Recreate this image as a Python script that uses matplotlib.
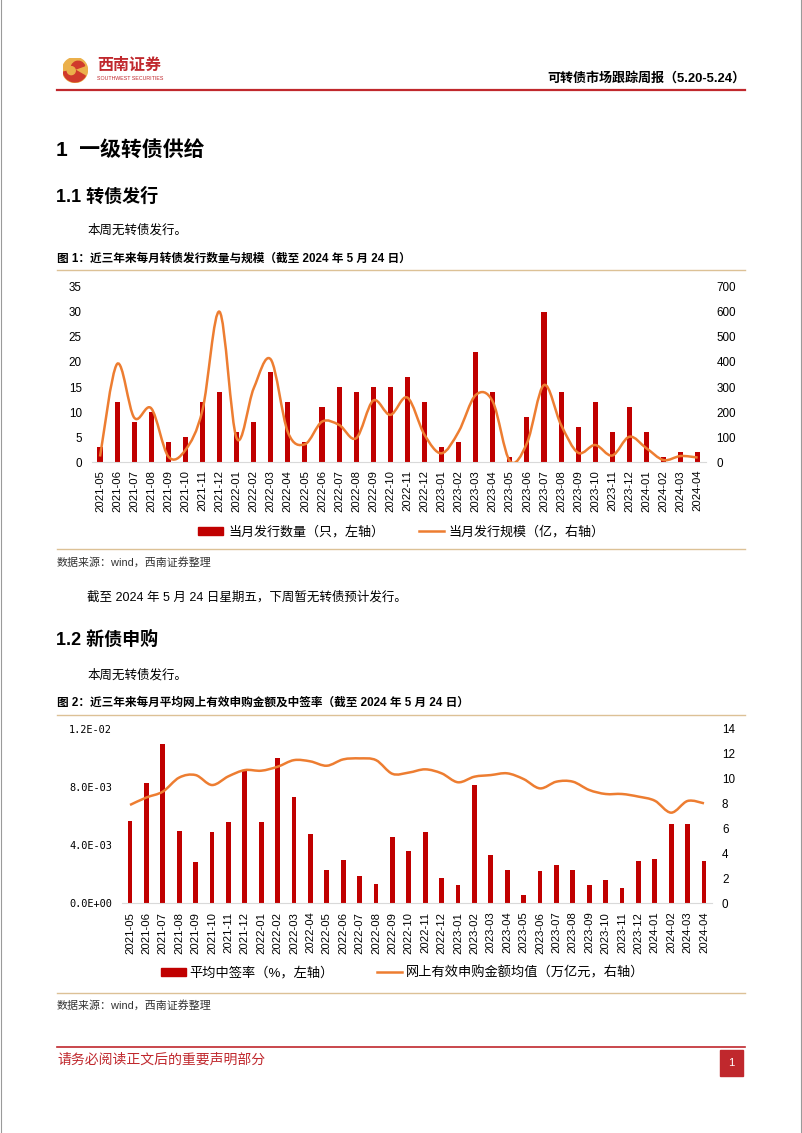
import numpy as np
import pandas as pd
import matplotlib
matplotlib.use('Agg')  # no display
import matplotlib.pyplot as plt
from matplotlib.path import Path
from matplotlib.patches import PathPatch, Rectangle, Circle, Wedge, Patch
from matplotlib.lines import Line2D
from matplotlib.ticker import FixedLocator, FuncFormatter

plt.rcParams['font.family'] = ['Liberation Sans', 'Noto Sans CJK SC', 'DejaVu Sans']

# ---- data ----
months = [p.strftime('%Y-%m') for p in pd.period_range('2021-05', '2024-04', freq='M')]

# fig 1: monthly issuance count (left) and size in 100m CNY (right)
issue_count = [3, 12, 8, 10, 4, 5, 12, 14,
               6, 8, 18, 12, 4, 11, 15, 14, 15, 15, 17, 12,
               3, 4, 22, 14, 1, 9, 30, 14, 7, 12, 6, 11,
               6, 1, 2, 2]
issue_size = [23, 392, 178, 215, 23, 49, 208, 600,
              96, 295, 410, 120, 72, 162, 149, 96, 246, 189, 258, 110,
              36, 122, 268, 242, 5, 76, 308, 149, 38, 69, 27, 102,
              56, 9, 25, 19]

# fig 2: avg winning rate (left) and avg online subscription amount, trillion CNY (right)
win_rate = [0.00569, 0.00826, 0.01097, 0.0050, 0.00285, 0.00493, 0.00562, 0.00918,
            0.00562, 0.00998, 0.0073, 0.00477, 0.00229, 0.00298, 0.0019, 0.00133,
            0.00459, 0.0036, 0.00493, 0.00174,
            0.00126, 0.00812, 0.00333, 0.00229, 0.00057, 0.00223, 0.00266, 0.00229,
            0.00128, 0.00161, 0.00108, 0.00291,
            0.00307, 0.00548, 0.00548, 0.00291]
sub_amount = [7.9, 8.5, 8.97, 10.1, 10.3, 9.5, 10.2, 10.7,
              10.65, 10.97, 11.5, 11.4, 11.05, 11.56, 11.64, 11.5, 10.4, 10.5, 10.76, 10.44,
              9.72, 10.17, 10.3, 10.44, 9.98, 9.23, 9.77, 9.77, 9.1, 8.78, 8.78, 8.57,
              8.24, 7.28, 8.22, 8.03]

RED = '#C00000'
ORANGE = '#ED7D31'
BRAND = '#C0282D'
TAN = '#DCC196'

W, H = 802, 1133


def fx(x):
    return x / W


def fy(y):
    return 1 - y / H


def smooth_path(xs, ys):
    # Excel-style smoothed line: catmull-rom segments as cubic beziers
    px = np.concatenate([[xs[0]], xs, [xs[-1]]]).astype(float)
    py = np.concatenate([[ys[0]], ys, [ys[-1]]]).astype(float)
    verts = [(px[1], py[1])]
    codes = [Path.MOVETO]
    for i in range(len(xs) - 1):
        c1 = (px[i + 1] + (px[i + 2] - px[i]) / 6, py[i + 1] + (py[i + 2] - py[i]) / 6)
        c2 = (px[i + 2] - (px[i + 3] - px[i + 1]) / 6, py[i + 2] - (py[i + 3] - py[i + 1]) / 6)
        verts += [c1, c2, (px[i + 2], py[i + 2])]
        codes += [Path.CURVE4] * 3
    return Path(verts, codes)


def hline(y, x0, x1, color, lw):
    fig.add_artist(Line2D([fx(x0), fx(x1)], [fy(y), fy(y)], color=color, lw=lw))


def txt(x, y, s, size, **kw):
    fig.text(fx(x), fy(y), s, fontsize=size, va='center', **kw)


fig = plt.figure(figsize=(W / 100, H / 100), dpi=100)

# page border
fig.add_artist(Line2D([fx(0.5), fx(0.5)], [0, 1], color='#9A9A9A', lw=0.8))
fig.add_artist(Line2D([fx(800.5), fx(800.5)], [0, 1], color='#9A9A9A', lw=0.8))

# ---- header ----
ax_logo = fig.add_axes([fx(62.5), fy(82.5), 25 / W, 25 / H])
ax_logo.set_xlim(-1, 1)
ax_logo.set_ylim(-1, 1)
ax_logo.axis('off')
ax_logo.add_patch(Circle((0, 0), 1, color='#EBB04B'))
ax_logo.add_patch(Wedge((0, 0), 0.95, 190, 330, color='#D03A2C'))
ax_logo.add_patch(Wedge((0.25, 0.15), 0.55, 20, 200, color='#D03A2C'))
ax_logo.add_patch(Circle((-0.3, -0.05), 0.32, color='#EBB04B'))
txt(97, 65, '西南证券', 11.5, color=BRAND, fontweight='bold')
txt(97, 78, 'SOUTHWEST SECURITIES', 3.8, color=BRAND)
fig.text(fx(745), fy(78), '可转债市场跟踪周报（5.20-5.24）', fontsize=9.4,
         fontweight='bold', ha='right', va='center')
hline(90, 57, 745, BRAND, 1.6)

# ---- body text ----
txt(56, 150, '1  一级转债供给', 15, fontweight='bold')
txt(56, 197, '1.1 转债发行', 13, fontweight='bold')
txt(87, 230, '本周无转债发行。', 9)
txt(57, 259, '图 1：近三年来每月转债发行数量与规模（截至 2024 年 5 月 24 日）', 8.4, fontweight='bold')
hline(270, 57, 745, TAN, 1.0)
hline(549, 57, 745, TAN, 1.0)
txt(57, 562, '数据来源：wind，西南证券整理', 7.9, color='#333333')
txt(87, 597, '截至 2024 年 5 月 24 日星期五，下周暂无转债预计发行。', 9)
txt(56, 640, '1.2 新债申购', 13, fontweight='bold')
txt(87, 675, '本周无转债发行。', 9)
txt(57, 703, '图 2：近三年来每月平均网上有效申购金额及中签率（截至 2024 年 5 月 24 日）', 8.4, fontweight='bold')
hline(715, 57, 745, TAN, 1.0)
hline(993, 57, 745, TAN, 1.0)
txt(57, 1005, '数据来源：wind，西南证券整理', 7.9, color='#333333')

# footer
hline(1047, 57, 745, BRAND, 1.2)
txt(57, 1060, '请务必阅读正文后的重要声明部分', 10, color=BRAND)
fig.add_artist(Rectangle((fx(720), fy(1076)), 23 / W, 26 / H, color=BRAND))
fig.text(fx(731.5), fy(1063), '1', fontsize=8, color='white', ha='center', va='center')

x = np.arange(len(months))


def style_axes(ax, ax2):
    for a in (ax, ax2):
        for s in a.spines.values():
            s.set_visible(False)
        a.tick_params(length=0)
    ax.spines['bottom'].set_visible(True)
    ax.spines['bottom'].set_color('#D9D9D9')
    ax.spines['bottom'].set_linewidth(0.8)
    ax.set_xlim(-0.5, len(months) - 0.5)
    ax.set_xticks(x)
    ax.set_xticklabels(months, rotation=90, fontsize=8.1)


# ---- chart 1 ----
ax = fig.add_axes([fx(91.5), fy(462.3), (706.2 - 91.5) / W, (462.3 - 286.7) / H])
ax2 = ax.twinx()
ax.bar(x, issue_count, width=0.3, color=RED)
ax.set_ylim(0, 35)
ax.set_yticks(range(0, 36, 5))
ax2.set_ylim(0, 700)
ax2.set_yticks(range(0, 701, 100))
ax2.add_patch(PathPatch(smooth_path(x, issue_size), facecolor='none',
                        edgecolor=ORANGE, lw=1.8))
style_axes(ax, ax2)
ax.tick_params(axis='y', labelsize=8.4, pad=7)
ax2.tick_params(axis='y', labelsize=8.4, pad=7.5)
ax.tick_params(axis='x', pad=5.5)

handles = [Patch(color=RED), Line2D([], [], color=ORANGE, lw=1.8)]
fig.legend(handles, ['当月发行数量（只，左轴）', '当月发行规模（亿，右轴）'],
           loc='center', bbox_to_anchor=(fx(401.5), fy(532)), ncol=2, frameon=False,
           fontsize=9.4, handlelength=1.9, handleheight=0.5, handletextpad=0.38,
           columnspacing=2.65)

# ---- chart 2 ----
bx = fig.add_axes([fx(121.8), fy(903.3), (712.2 - 121.8) / W, (903.3 - 729) / H])
bx2 = bx.twinx()
bx.bar(x, win_rate, width=0.3, color=RED)
bx.set_ylim(0, 0.012)
bx.yaxis.set_major_locator(FixedLocator([0, 0.004, 0.008, 0.012]))
bx.yaxis.set_major_formatter(FuncFormatter(lambda v, p: f'{v:.1E}'))
bx2.set_ylim(0, 14)
bx2.set_yticks(range(0, 15, 2))
bx2.add_patch(PathPatch(smooth_path(x, sub_amount), facecolor='none',
                        edgecolor=ORANGE, lw=1.8))
style_axes(bx, bx2)
bx.tick_params(axis='y', labelsize=7.4, pad=7)
for t in bx.get_yticklabels():
    t.set_family('DejaVu Sans Mono')
bx2.tick_params(axis='y', labelsize=8.4, pad=7)
bx.tick_params(axis='x', pad=6)

fig.legend(handles, ['平均中签率（%，左轴）', '网上有效申购金额均值（万亿元，右轴）'],
           loc='center', bbox_to_anchor=(fx(402.5), fy(973)), ncol=2, frameon=False,
           fontsize=9.5, handlelength=1.9, handleheight=0.5, handletextpad=0.3,
           columnspacing=3.25)

fig.savefig('out.png', dpi=100, facecolor='white')
plt.close(fig)
